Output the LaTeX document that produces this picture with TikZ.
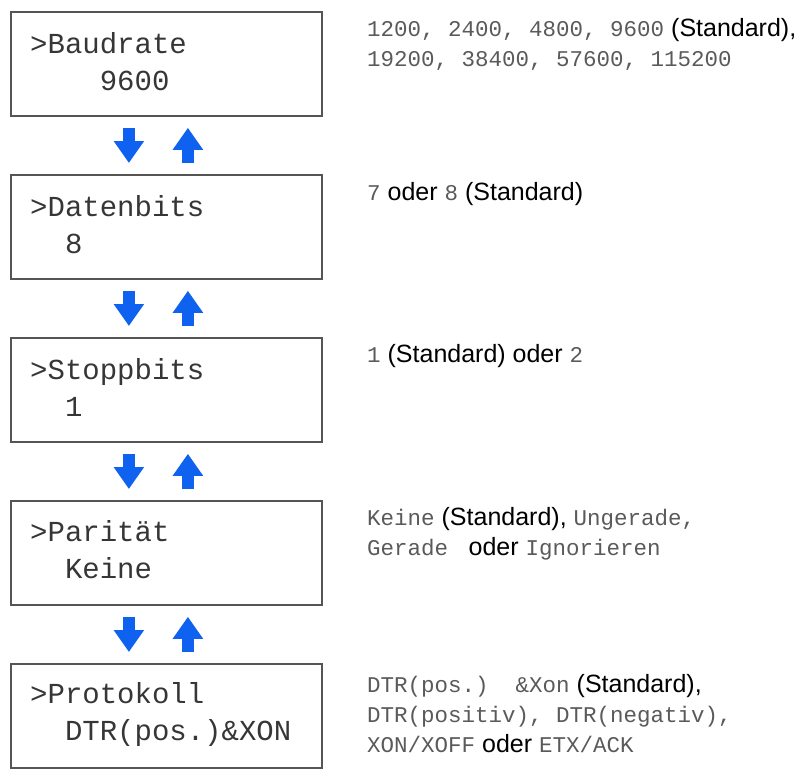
\documentclass[tikz,border=0pt]{standalone}
\usepackage{fontspec}
\setmainfont{Liberation Sans}
\newfontfamily\lcdfont{Liberation Mono}
\usetikzlibrary{positioning,arrows.meta}
\definecolor{mnblue}{HTML}{0F62F0}
\definecolor{mnframe}{HTML}{555555}
\definecolor{mntext}{HTML}{363636}
\definecolor{mnopt}{HTML}{5A5A5A}
\newcommand{\opt}[1]{{\fontsize{22.5}{30}\selectfont\lcdfont\color{mnopt}#1}}
\newcommand{\cols}[1]{\hspace*{#1em}}
\tikzset{
  menu/.style  ={draw=mnframe, line width=1.8pt, minimum width=311pt,
                 minimum height=104pt, anchor=north west, inner sep=0pt},
  lcd/.style   ={font=\fontsize{29}{37}\selectfont\lcdfont, text=mntext,
                 align=left, anchor=base west, inner sep=0pt},
  choice/.style={font=\fontsize{25}{30}\selectfont, align=left,
                 anchor=base west, inner sep=0pt},
  nav/.style   ={mnblue, line width=12pt, -{Triangle[width=29pt,length=22pt]},
                 shorten >=11pt, shorten <=11pt},
}

\begin{document}
\begin{tikzpicture}[x=1pt,y=-1pt]
  \useasboundingbox (0,0) rectangle (801,771);
  % menu entries (text placed by the baseline of its last line)
  \node[menu] (b1) at (10,11)  {};
  \node[menu] (b2) at (10,174) {};
  \node[menu] (b3) at (10,337) {};
  \node[menu] (b4) at (10,500) {};
  \node[menu] (b5) at (10,663) {};
  \node[lcd] (t1) at (30,90)  {>Baudrate\\\cols{2.4}9600};
  \node[lcd] (t2) at (30,253) {>Datenbits\\\cols{1.2}8};
  \node[lcd] (t3) at (30,416) {>Stoppbits\\\cols{1.2}1};
  \node[lcd] (t4) at (30,578) {>Parität\\\cols{1.2}Keine};
  \node[lcd] (t5) at (30,740) {>Protokoll\\\cols{1.2}DTR(pos.)\&XON};
  % choices
  \node[choice] (o1) at (367,66)
    {\opt{1200, 2400, 4800, 9600} (Standard),\\\opt{19200, 38400, 57600, 115200}};
  \node[choice] (o2) at (367,200) {\opt{7} oder \opt{8} (Standard)};
  \node[choice] (o3) at (367,362) {\opt{1} (Standard) oder \opt{2}};
  \node[choice] (o4) at (367,555)
    {\opt{Keine} (Standard), \opt{Ungerade,}\\\opt{Gerade\ } oder \opt{Ignorieren}};
  \node[choice] (o5) at (367,752)
    {\opt{DTR(pos.)\ \ \&Xon} (Standard),\\\opt{DTR(positiv), DTR(negativ),}\\\opt{XON/XOFF} oder \opt{ETX/ACK}};
  % up/down
  \foreach \a/\b in {b1/b2,b2/b3,b3/b4,b4/b5}{
    \draw[nav] ([xshift=-37.5pt]\a.south) -- ([xshift=-37.5pt]\b.north);
    \draw[nav] ([xshift=21.5pt]\b.north) -- ([xshift=21.5pt]\a.south);
  }
\end{tikzpicture}
\end{document}
